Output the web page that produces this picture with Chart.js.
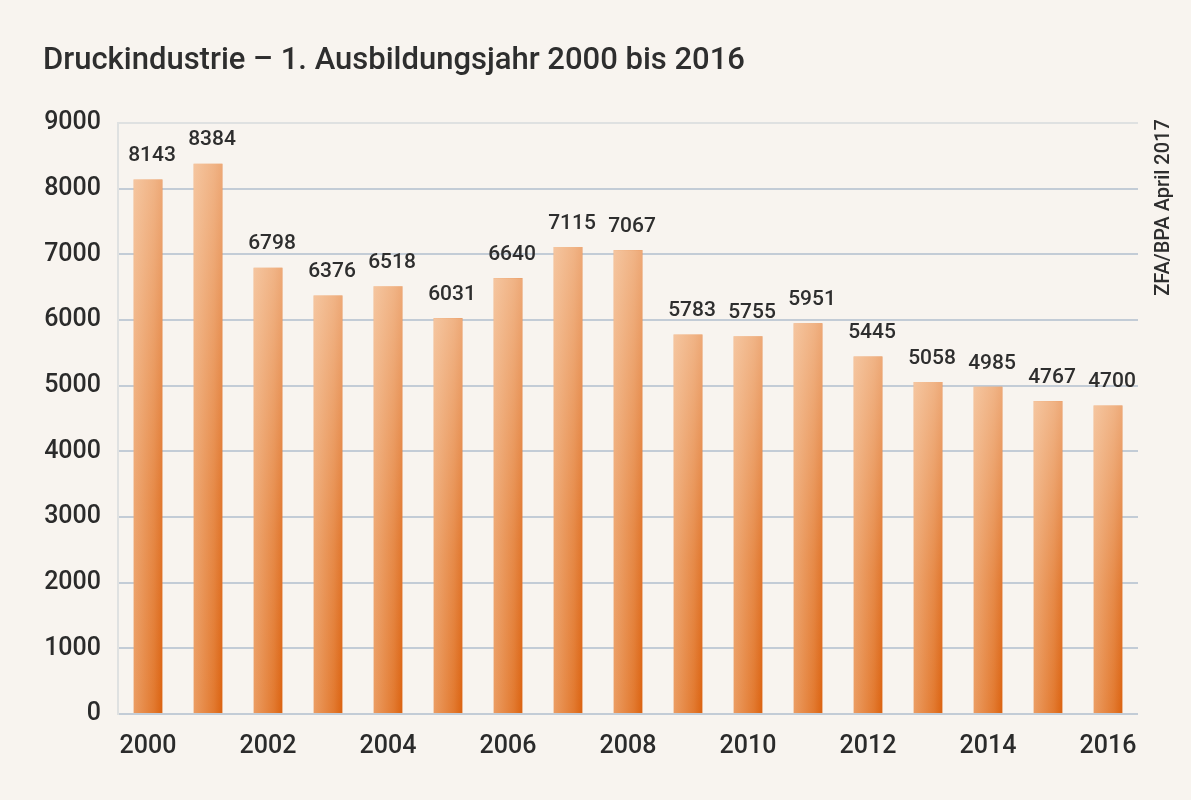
<!DOCTYPE html>
<html>
<head>
<meta charset="utf-8">
<script src="https://cdn.jsdelivr.net/npm/chart.js@4"></script>
<style>
  html, body { margin: 0; padding: 0; background: #f8f4ef; }
  #wrap { width: 1191px; height: 800px; }
</style>
</head>
<body>
<div id="wrap"><canvas id="chart"></canvas></div>
<script>
// Druckindustrie, 1. Ausbildungsjahr
var years = ['2000','2001','2002','2003','2004','2005','2006','2007','2008',
  '2009','2010','2011','2012','2013','2014','2015','2016'];
var azubis = [8143, 8384, 6798, 6376, 6518, 6031, 6640, 7115, 7067,
  5783, 5755, 5951, 5445, 5058, 4985, 4767, 4700];
var yTicks = [0, 1000, 2000, 3000, 4000, 5000, 6000, 7000, 8000, 9000];

var titleText = 'Druckindustrie \u2013 1. Ausbildungsjahr 2000 bis 2016';
var sourceText = 'ZFA/BPA April 2017';
var barPct = 0.48;

function barColor(context) {
  var chart = context.chart;
  var xs = chart.scales.x;
  if (!chart.chartArea || !xs) return '#e47a34';
  var cx = xs.getPixelForValue(context.dataIndex);
  var w = xs.width / years.length * barPct;
  var g = chart.ctx.createLinearGradient(cx - w / 2, 0, cx + w / 2, 0);
  g.addColorStop(0, '#eb9c62');
  g.addColorStop(0.7, '#e2792f');
  g.addColorStop(1, '#db6210');
  return g;
}

// background, lighter top of each bar, value labels, source line
var extras = {
  id: 'extras',
  beforeDraw: function(chart) {
    var ctx = chart.ctx;
    ctx.save();
    ctx.fillStyle = '#f8f4ef';
    ctx.fillRect(0, 0, chart.width, chart.height);
    ctx.restore();
  },
  afterDatasetsDraw: function(chart) {
    var ctx = chart.ctx;
    var meta = chart.getDatasetMeta(0);
    ctx.save();
    meta.data.forEach(function(bar, i) {
      var p = bar.getProps(['x', 'y', 'base', 'width'], true);
      var g = ctx.createLinearGradient(0, p.y, 0, p.base);
      g.addColorStop(0, 'rgba(255,238,220,0.5)');
      g.addColorStop(0.6, 'rgba(255,238,220,0.15)');
      g.addColorStop(1, 'rgba(255,238,220,0)');
      ctx.fillStyle = g;
      ctx.fillRect(p.x - p.width / 2, p.y, p.width, p.base - p.y);
    });
    ctx.fillStyle = '#2e2e2e';
    ctx.font = '500 21px Roboto';
    ctx.textAlign = 'center';
    ctx.textBaseline = 'bottom';
    meta.data.forEach(function(bar, i) {
      var p = bar.getProps(['x', 'y'], true);
      ctx.fillText(azubis[i], p.x + 4, p.y - 13);
    });
    ctx.translate(1164, chart.chartArea.top - 4);
    ctx.rotate(-Math.PI / 2);
    ctx.font = '500 20px Roboto';
    ctx.textAlign = 'right';
    ctx.textBaseline = 'middle';
    ctx.fillText(sourceText, 0, 0);
    ctx.restore();
  }
};

new Chart(document.getElementById('chart').getContext('2d'), {
  type: 'bar',
  data: {
    labels: years,
    datasets: [{
      data: azubis,
      backgroundColor: barColor,
      borderWidth: 0,
      barPercentage: barPct,
      categoryPercentage: 1
    }]
  },
  options: {
    responsive: true,
    maintainAspectRatio: false,
    animation: false,
    layout: { padding: { left: 43, right: 53, top: 0, bottom: 20 } },
    plugins: {
      legend: { display: false },
      tooltip: { enabled: false },
      title: {
        display: true,
        text: titleText,
        align: 'start',
        color: '#2e2e2e',
        font: { family: 'Roboto', size: 31, weight: '500' },
        padding: { top: 43, bottom: 43 }
      }
    },
    scales: {
      x: {
        grid: { display: false, drawTicks: false },
        border: { display: false },
        ticks: {
          color: '#2b2b2b',
          font: { family: 'Roboto', size: 25, weight: '500' },
          padding: 18,
          autoSkip: false,
          maxRotation: 0,
          callback: function(v, i) { return i % 2 === 0 ? years[i] : ''; }
        }
      },
      y: {
        min: 0,
        max: 9000,
        afterBuildTicks: function(scale) {
          scale.ticks = yTicks.map(function(v) { return { value: v }; });
        },
        afterFit: function(scale) { scale.width = 75; },
        grid: {
          drawTicks: false,
          lineWidth: 2,
          color: function(c) { return c.tick && c.tick.value === 9000 ? '#dfe1e1' : '#c3ccd6'; }
        },
        border: { display: true, color: '#dfe1e1', width: 2 },
        ticks: {
          color: '#2b2b2b',
          font: { family: 'Roboto', size: 25, weight: '500' },
          padding: 17,
          callback: function(v) { return String(v); }
        }
      }
    }
  },
  plugins: [extras]
});
</script>
</body>
</html>
